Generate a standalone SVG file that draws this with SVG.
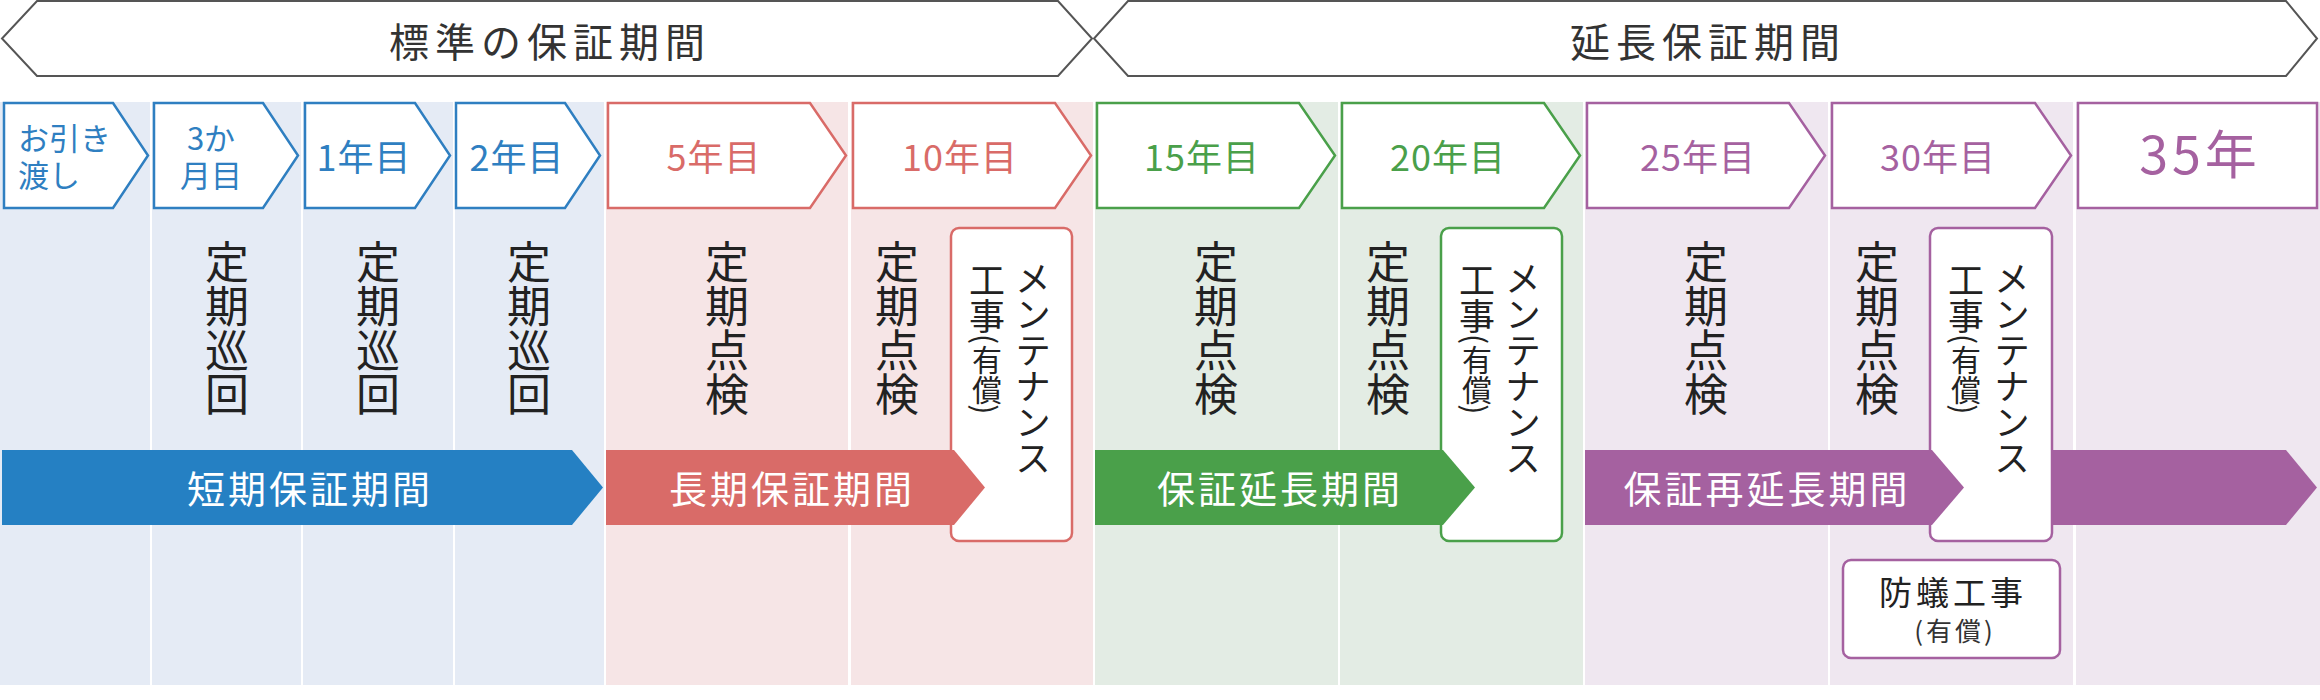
<svg xmlns="http://www.w3.org/2000/svg" width="2320" height="700" viewBox="0 0 2320 700">
<style>
text{font-family:"Noto Sans CJK JP","Noto Sans",sans-serif}
.hd{font-size:40px;fill:#333;text-anchor:middle;letter-spacing:6px}
.banner{fill:#fff;stroke:#555;stroke-width:2}
.chev{fill:#fff;stroke-width:2.5}
.yr{font-size:36px;text-anchor:middle;letter-spacing:1px}
.vt{writing-mode:vertical-rl;font-size:44px;fill:#222}
.vm{writing-mode:vertical-rl;font-size:36px;fill:#222}
.box{fill:#fff;stroke-width:2.5}
.al{font-size:38px;fill:#fff;text-anchor:middle;letter-spacing:3px}
</style>
<rect width="2320" height="700" fill="#fff"/>
<g id="backgrounds">
<rect x="0" y="102" width="150" height="583" fill="#e5ebf5"/>
<rect x="152" y="102" width="149" height="583" fill="#e5ebf5"/>
<rect x="303" y="102" width="150" height="583" fill="#e5ebf5"/>
<rect x="455" y="102" width="149" height="583" fill="#e5ebf5"/>
<rect x="606" y="102" width="242" height="583" fill="#f6e5e6"/>
<rect x="851" y="102" width="242" height="583" fill="#f6e5e6"/>
<rect x="1095" y="102" width="243" height="583" fill="#e3ece4"/>
<rect x="1340" y="102" width="243" height="583" fill="#e3ece4"/>
<rect x="1585" y="102" width="243" height="583" fill="#efe7f0"/>
<rect x="1830" y="102" width="243" height="583" fill="#efe7f0"/>
<rect x="2076" y="102" width="244" height="583" fill="#efe7f0"/>
</g>
<g id="banner-standard">
<polygon class="banner" points="37,1 1058,1 1092,38.5 1058,76 37,76 2,38.5"/>
<text class="hd" x="550" y="57">標準の保証期間</text>
</g>
<g id="banner-extended">
<polygon class="banner" points="1128,1 2286,1 2317,38.5 2286,76 1128,76 1094,38.5"/>
<text class="hd" x="1708" y="57">延長保証期間</text>
</g>
<g id="step-handover">
<polygon class="chev" stroke="#2f7fc1" points="4,103 113,103 148,155.5 113,208 4,208"/>
<text font-size="31" fill="#2f7fc1"><tspan x="18" y="150">お引き</tspan><tspan x="18" y="187">渡し</tspan></text>
</g>
<g id="step-3m">
<polygon class="chev" stroke="#2f7fc1" points="154,103 263,103 298,155.5 263,208 154,208"/>
<text font-size="31" fill="#2f7fc1" text-anchor="middle"><tspan x="211" y="150">3か</tspan><tspan x="211" y="187">月目</tspan></text>
<text class="vt" x="227" y="240">定期巡回</text>
</g>
<g id="step-1y">
<polygon class="chev" stroke="#2f7fc1" points="305,103 415,103 450,155.5 415,208 305,208"/>
<text class="yr" x="364" y="171" fill="#2f7fc1">1年目</text>
<text class="vt" x="378" y="240">定期巡回</text>
</g>
<g id="step-2y">
<polygon class="chev" stroke="#2f7fc1" points="456,103 565,103 600,155.5 565,208 456,208"/>
<text class="yr" x="517" y="171" fill="#2f7fc1">2年目</text>
<text class="vt" x="529" y="240">定期巡回</text>
</g>
<g id="step-5y">
<polygon class="chev" stroke="#d96b68" points="608,103 810,103 846,155.5 810,208 608,208"/>
<text class="yr" x="714" y="171" fill="#d96b68">5年目</text>
<text class="vt" x="727" y="240">定期点検</text>
</g>
<g id="step-10y">
<polygon class="chev" stroke="#d96b68" points="853,103 1055,103 1091,155.5 1055,208 853,208"/>
<text class="yr" x="960" y="171" fill="#d96b68">10年目</text>
<text class="vt" x="897" y="240">定期点検</text>
</g>
<g id="step-15y">
<polygon class="chev" stroke="#4aa04a" points="1097,103 1299,103 1335,155.5 1299,208 1097,208"/>
<text class="yr" x="1202" y="171" fill="#4aa04a">15年目</text>
<text class="vt" x="1216" y="240">定期点検</text>
</g>
<g id="step-20y">
<polygon class="chev" stroke="#4aa04a" points="1342,103 1544,103 1580,155.5 1544,208 1342,208"/>
<text class="yr" x="1448" y="171" fill="#4aa04a">20年目</text>
<text class="vt" x="1388" y="240">定期点検</text>
</g>
<g id="step-25y">
<polygon class="chev" stroke="#a561a0" points="1587,103 1789,103 1825,155.5 1789,208 1587,208"/>
<text class="yr" x="1698" y="171" fill="#a561a0">25年目</text>
<text class="vt" x="1706" y="240">定期点検</text>
</g>
<g id="step-30y">
<polygon class="chev" stroke="#a561a0" points="1832,103 2035,103 2071,155.5 2035,208 1832,208"/>
<text class="yr" x="1938" y="171" fill="#a561a0">30年目</text>
<text class="vt" x="1877" y="240">定期点検</text>
</g>
<g id="step-35y">
<rect class="chev" stroke="#a561a0" x="2078" y="103" width="239" height="105"/>
<text x="2200" y="174" font-size="52" fill="#a561a0" text-anchor="middle" letter-spacing="4">35年</text>
</g>
<g id="period-arrows">
<g id="arrow-short">
<polygon fill="#2580c3" points="2,450 572,450 603,487.5 572,525 2,525"/>
<text class="al" x="310" y="503">短期保証期間</text>
</g>
<g id="maint-10y">
<rect class="box" stroke="#d96b68" x="951" y="228" width="121" height="313" rx="8"/>
<text class="vm" x="1033" y="260">メンテナンス</text>
<text class="vm" x="987" y="262">工事<tspan font-size="30">(有償)</tspan></text>
</g>
<g id="arrow-long">
<polygon fill="#d96b68" points="606,450 954,450 985,487.5 954,525 606,525"/>
<text class="al" x="792" y="503">長期保証期間</text>
</g>
<g id="maint-20y">
<rect class="box" stroke="#4aa04a" x="1441" y="228" width="121" height="313" rx="8"/>
<text class="vm" x="1523" y="260">メンテナンス</text>
<text class="vm" x="1477" y="262">工事<tspan font-size="30">(有償)</tspan></text>
</g>
<g id="arrow-extend">
<polygon fill="#4aa04a" points="1095,450 1443,450 1475,487.5 1443,525 1095,525"/>
<text class="al" x="1280" y="503">保証延長期間</text>
</g>
<g id="arrow-reextend-tail">
<polygon fill="#a561a0" points="2040,450 2286,450 2317,487.5 2286,525 2040,525"/>
</g>
<g id="maint-30y">
<rect class="box" stroke="#a561a0" x="1930" y="228" width="122" height="313" rx="8"/>
<text class="vm" x="2012" y="260">メンテナンス</text>
<text class="vm" x="1966" y="262">工事<tspan font-size="30">(有償)</tspan></text>
</g>
<g id="arrow-reextend">
<polygon fill="#a561a0" points="1585,450 1932,450 1964,487.5 1932,525 1585,525"/>
<text class="al" x="1767" y="503">保証再延長期間</text>
</g>
</g>
<g id="termite-work">
<rect class="box" stroke="#a561a0" x="1843" y="560" width="217" height="98" rx="8"/>
<text x="1953" y="605" font-size="33" fill="#222" text-anchor="middle" letter-spacing="4">防蟻工事</text>
<text x="1955" y="641" font-size="26" fill="#333" text-anchor="middle" letter-spacing="3">(有償)</text>
</g>
</svg>
